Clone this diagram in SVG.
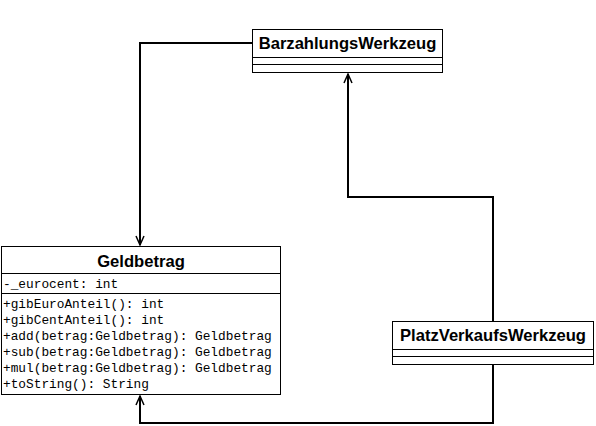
<svg xmlns="http://www.w3.org/2000/svg" width="596" height="426" viewBox="0 0 596 426">
<style>
.box{fill:#fff;stroke:#000;stroke-width:1}
.sep{stroke:#000;stroke-width:1}
.title{font-family:"Liberation Sans",Arial,sans-serif;font-weight:bold;font-size:16.6px;text-anchor:middle;fill:#000}
.mem{font-family:"Liberation Mono","Courier New",monospace;font-size:12.8px;fill:#000}
.conn{fill:none;stroke:#000;stroke-width:2}
</style>
<defs>
<marker id="arr" markerUnits="userSpaceOnUse" markerWidth="12" markerHeight="12" viewBox="-10 -6 12 12" refX="0" refY="0" orient="auto">
<path d="M-9,-4 L0,0 L-9,4" fill="none" stroke="#000" stroke-width="1.5"/>
</marker>
</defs>
<rect width="596" height="426" fill="#fff"/>
<g id="connectors">
<path class="conn" d="M252,43 H140 V245" marker-end="url(#arr)"/>
<path class="conn" d="M493,321 V197 H348 V74" marker-end="url(#arr)"/>
<path class="conn" d="M493,365 V423 H140 V396" marker-end="url(#arr)"/>
</g>
<g id="BarzahlungsWerkzeug">
<rect class="box" x="252.5" y="29.5" width="190" height="43"/>
<line class="sep" x1="252.5" y1="57.5" x2="442.5" y2="57.5"/>
<line class="sep" x1="252.5" y1="64.5" x2="442.5" y2="64.5"/>
<text class="title" x="347.5" y="48.5">BarzahlungsWerkzeug</text>
</g>
<g id="Geldbetrag">
<rect class="box" x="1.5" y="246.5" width="279" height="148"/>
<line class="sep" x1="1.5" y1="273.5" x2="280.5" y2="273.5"/>
<line class="sep" x1="1.5" y1="293.5" x2="280.5" y2="293.5"/>
<text class="title" x="141" y="266.5">Geldbetrag</text>
<text class="mem" x="3" y="288">-_eurocent: int</text>
<text class="mem" x="3" y="308">+gibEuroAnteil(): int</text>
<text class="mem" x="3" y="324">+gibCentAnteil(): int</text>
<text class="mem" x="3" y="340">+add(betrag:Geldbetrag): Geldbetrag</text>
<text class="mem" x="3" y="356">+sub(betrag:Geldbetrag): Geldbetrag</text>
<text class="mem" x="3" y="372">+mul(betrag:Geldbetrag): Geldbetrag</text>
<text class="mem" x="3" y="388">+toString(): String</text>
</g>
<g id="PlatzVerkaufsWerkzeug">
<rect class="box" x="392.5" y="321.5" width="201" height="43"/>
<line class="sep" x1="392.5" y1="349.5" x2="593.5" y2="349.5"/>
<line class="sep" x1="392.5" y1="356.5" x2="593.5" y2="356.5"/>
<text class="title" x="493" y="340.5">PlatzVerkaufsWerkzeug</text>
</g>
</svg>
